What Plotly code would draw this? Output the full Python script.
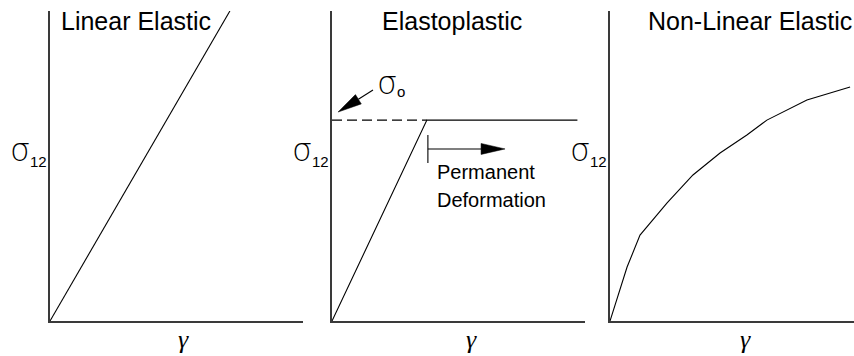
import math
import plotly.graph_objects as go

W, H = 854, 356

# ---- data (normalised strain / stress on each panel's 0..1 axes) ----
linear_strain = [0.0, 0.711]
linear_stress = [0.0, 1.0]

elasto_strain = [0.0, 0.375, 0.97]
elasto_stress = [0.0, 0.648, 0.648]
yield_strain = 0.375
yield_stress = 0.648

nonlinear_strain = [0.0, 0.041, 0.070, 0.123, 0.234, 0.340, 0.451, 0.561, 0.643, 0.807, 0.984]
nonlinear_stress = [0.0, 0.100, 0.174, 0.277, 0.381, 0.471, 0.542, 0.600, 0.648, 0.713, 0.755]

panel_titles = ["Linear Elastic", "Elastoplastic", "Non-Linear Elastic"]
strain_symbol = "γ"
stress_symbol = "σ"
stress_sub = "12"
yield_sub = "o"
plastic_text = ["Permanent", "Deformation"]

# ---- layout geometry (pixels) ----
panel_left = [50, 332, 610]
panel_right = [303, 585, 854]
panel_top, panel_bottom = 11, 321

AXIS_COLOR = "#3a3a3a"
CURVE_COLOR = "#000000"
SANS = "Liberation Sans, Arial, sans-serif"
GREEK = "DejaVu Sans, sans-serif"
SERIF = "Liberation Serif, Times New Roman, serif"


def px(x):
    return x / W


def py(y):
    return 1 - y / H


fig = go.Figure()

curves = [
    (linear_strain, linear_stress),
    (elasto_strain, elasto_stress),
    (nonlinear_strain, nonlinear_stress),
]

for i, (xs, ys) in enumerate(curves):
    suffix = "" if i == 0 else str(i + 1)
    fig.add_trace(go.Scatter(
        x=xs, y=ys, mode="lines",
        line=dict(color=CURVE_COLOR, width=1.1),
        xaxis="x" + suffix, yaxis="y" + suffix,
        hoverinfo="skip", showlegend=False, cliponaxis=False,
    ))
    axis_common = dict(
        showline=True, linecolor=AXIS_COLOR, linewidth=1.5,
        showgrid=False, zeroline=False, showticklabels=False, ticks="",
        range=[0, 1], fixedrange=True,
    )
    fig.update_layout(**{
        "xaxis" + suffix: dict(
            axis_common,
            domain=[px(panel_left[i]), px(panel_right[i])],
            anchor="y" + suffix,
        ),
        "yaxis" + suffix: dict(
            axis_common,
            domain=[py(panel_bottom), py(panel_top)],
            anchor="x" + suffix,
        ),
    })

# dashed yield-stress reference line on the elastoplastic panel
fig.add_trace(go.Scatter(
    x=[0.0, yield_strain], y=[yield_stress, yield_stress], mode="lines",
    line=dict(color=CURVE_COLOR, width=1.1, dash="10px,5px"),
    xaxis="x2", yaxis="y2", hoverinfo="skip", showlegend=False, cliponaxis=False,
))

# ---- arrows on panel 2 (data units, converted through pixel scale) ----
SX = panel_right[1] - panel_left[1]
SY = panel_bottom - panel_top


def head_path(tail, tip, length, half_w):
    dx = (tip[0] - tail[0]) * SX
    dy = (tip[1] - tail[1]) * SY
    d = math.hypot(dx, dy)
    ux, uy = dx / d, dy / d
    nx, ny = -uy, ux
    bx = tip[0] * SX - ux * length
    by = tip[1] * SY - uy * length
    p1 = ((bx + nx * half_w) / SX, (by + ny * half_w) / SY)
    p2 = ((bx - nx * half_w) / SX, (by - ny * half_w) / SY)
    base = (bx / SX, by / SY)
    path = f"M{tip[0]},{tip[1]} L{p1[0]},{p1[1]} L{p2[0]},{p2[1]} Z"
    return path, base


def add_arrow(tail, tip):
    path, base = head_path(tail, tip, 24, 5.5)
    fig.add_shape(type="line", xref="x2", yref="y2",
                  x0=tail[0], y0=tail[1], x1=base[0], y1=base[1],
                  line=dict(color=CURVE_COLOR, width=1.1))
    fig.add_shape(type="path", xref="x2", yref="y2", path=path,
                  fillcolor=CURVE_COLOR, line=dict(color=CURVE_COLOR, width=0.5))


# arrow pointing at the yield stress level
add_arrow((0.162, 0.745), (0.024, 0.674))

# permanent deformation arrow with its start bar
plastic_y = 0.555
plastic_start = 0.379
add_arrow((plastic_start, plastic_y), (0.684, plastic_y))
fig.add_shape(type="line", xref="x2", yref="y2",
              x0=plastic_start, x1=plastic_start, y0=0.51, y1=0.60,
              line=dict(color=CURVE_COLOR, width=1.1))

# ---- text ----
ann = []


def text(x, y, s, size, family=SANS, xanchor="center", style="normal", weight=400):
    ann.append(dict(
        x=px(x), y=py(y), xref="paper", yref="paper", text=s, showarrow=False,
        xanchor=xanchor, yanchor="middle", borderpad=0, borderwidth=0,
        font=dict(family=family, size=size, color="#000", style=style, weight=weight),
    ))


def symbol_with_sub(x, y, symbol, sub, sub_dy):
    # symbol ends where the subscript starts
    text(x, y, symbol, 32, family=GREEK, xanchor="right", weight=200)
    text(x, y + sub_dy, sub, 15, xanchor="left")


# panel titles
text(136, 21, panel_titles[0], 25)
text(452, 21, panel_titles[1], 25)
text(648, 21, panel_titles[2], 25, xanchor="left")

# stress-axis labels
for dx in (0, 282, 560):
    symbol_with_sub(30 + dx, 150, stress_symbol, stress_sub, 11)

# strain-axis labels
for cx in (183, 472, 745):
    text(cx, 339, strain_symbol, 26, family=SERIF, style="italic")

# yield stress label
symbol_with_sub(397, 83, stress_symbol, yield_sub, 8)

# permanent deformation label
text(437, 172, plastic_text[0], 20, xanchor="left")
text(437, 200, plastic_text[1], 20, xanchor="left")

fig.update_layout(
    width=W, height=H,
    margin=dict(l=0, r=0, t=0, b=0),
    paper_bgcolor="white", plot_bgcolor="white",
    annotations=ann, showlegend=False,
)

fig.write_html("out.html", config={"displayModeBar": False})
